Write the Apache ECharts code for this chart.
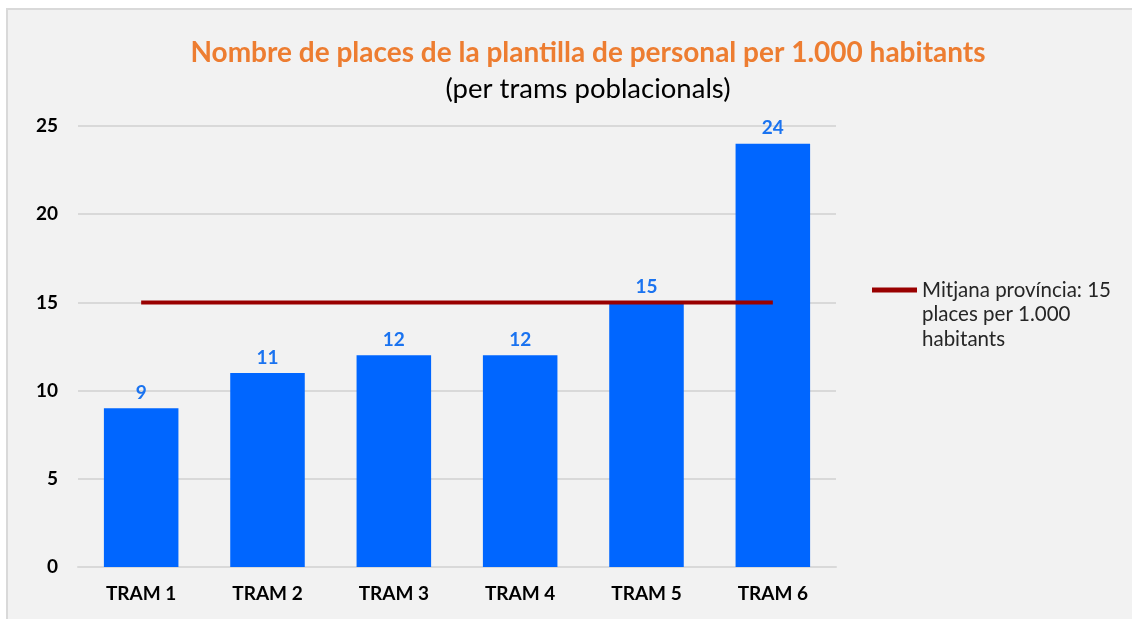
<!DOCTYPE html>
<html>
<head>
<meta charset="utf-8">
<script src="https://cdn.jsdelivr.net/npm/echarts@6/dist/echarts.min.js"></script>
<style>
  html, body { margin: 0; padding: 0; background: #fff; overflow: hidden; }
  #chart {
    position: absolute; left: 6px; top: 8px;
    width: 1140px; height: 620px;
    border: 2px solid #d9d9d9;
    background: #f2f2f2;
  }
</style>
</head>
<body>
<div id="chart"></div>
<script>
// dades
var trams = ['TRAM 1', 'TRAM 2', 'TRAM 3', 'TRAM 4', 'TRAM 5', 'TRAM 6'];
var places = [9, 11, 12, 12, 15, 24];
var mitjana = [15, 15, 15, 15, 15, 15];
var nomMitjana = 'Mitjana província: 15 places per 1.000 habitants';

(function(){

var chart = echarts.init(document.getElementById('chart'));

var font = 'Lato';

option = {
    backgroundColor: '#f2f2f2',
    title: [
        {
            text: 'Nombre de places de la plantilla de personal per 1.000 habitants',
            left: 575,
            top: 24,
            textAlign: 'center',
            textStyle: {
                color: '#ed7d31',
                fontFamily: font,
                fontWeight: 'bold',
                fontSize: 28
            }
        },
        {
            text: '(per trams poblacionals)',
            left: 575,
            top: 60,
            textAlign: 'center',
            textStyle: {
                color: '#000',
                fontFamily: font,
                fontWeight: 'normal',
                fontSize: 27.5
            }
        }
    ],
    legend: {
        data: [nomMitjana],
        orient: 'vertical',
        left: 859,
        top: 213,
        itemWidth: 45,
        itemHeight: 5,
        icon: 'rect',
        formatter: function () {
            // línies buides per deixar la icona a l'altura de la primera línia
            return '\n\nMitjana província: 15\nplaces per 1.000\nhabitants';
        },
        textStyle: {
            color: '#262626',
            fontFamily: font,
            fontSize: 20.5,
            lineHeight: 24.8
        }
    },
    grid: {
        left: 70,
        right: 312,
        top: 116,
        bottom: 63
    },
    xAxis: {
        type: 'category',
        data: trams,
        axisTick: { show: false },
        axisLine: { lineStyle: { color: '#d9d9d9', width: 2 } },
        axisLabel: {
            color: '#000',
            fontFamily: font,
            fontWeight: 'bold',
            fontSize: 19,
            margin: 17
        }
    },
    yAxis: {
        type: 'value',
        min: 0,
        max: 25,
        interval: 5,
        axisLine: { show: false },
        axisTick: { show: false },
        splitLine: { lineStyle: { color: '#d9d9d9', width: 2 } },
        axisLabel: {
            color: '#000',
            fontFamily: font,
            fontWeight: 'bold',
            fontSize: 19,
            margin: 20
        }
    },
    series: [
        {
            name: 'Places',
            type: 'bar',
            barWidth: '59%',
            data: places,
            itemStyle: { color: '#0066ff' },
            label: {
                show: true,
                position: 'top',
                distance: 6,
                color: '#1a73f0',
                fontFamily: font,
                fontWeight: 'bold',
                fontSize: 19
            }
        },
        {
            name: nomMitjana,
            type: 'line',
            data: mitjana,
            symbol: 'none',
            z: 5,
            lineStyle: { color: '#990000', width: 4 },
            itemStyle: { color: '#990000' }
        }
    ]
};

chart.setOption(option);
})();
</script>
</body>
</html>
